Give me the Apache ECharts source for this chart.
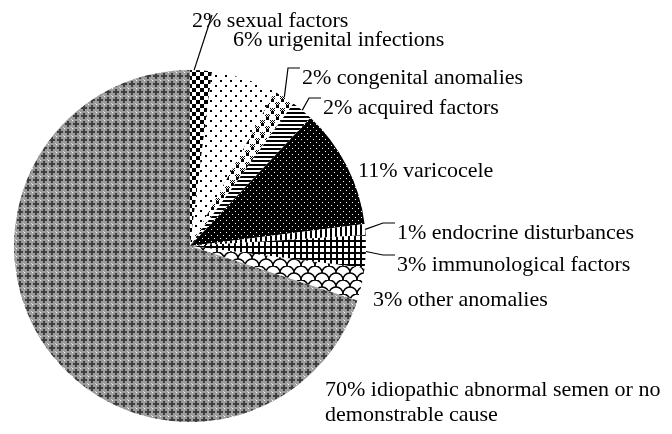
<!DOCTYPE html>
<html>
<head>
<meta charset="utf-8">
<script src="https://cdn.jsdelivr.net/npm/echarts@6/dist/echarts.min.js"></script>
<style>
html, body { margin: 0; padding: 0; background: #fff; }
#chart { width: 672px; height: 434px; }
</style>
</head>
<body>
<div id="chart"></div>
<script>
var causes = ['sexual factors', 'urigenital infections', 'congenital anomalies', 'acquired factors',
    'varicocele', 'endocrine disturbances', 'immunological factors', 'other anomalies',
    'idiopathic abnormal semen or no\ndemonstrable cause'];
var shares = [2, 6, 2, 2, 11, 1, 3, 3, 70];
var withLeader = [true, false, true, true, false, true, true, false, false];

// small canvas tiles used as repeating fills
function tile(w, h, draw) {
    var c = document.createElement('canvas');
    c.width = w;
    c.height = h;
    var ctx = c.getContext('2d');
    ctx.fillStyle = '#fff';
    ctx.fillRect(0, 0, w, h);
    draw(ctx, w, h);
    return {image: c, repeat: 'repeat'};
}

function grayBlock(ctx, x0, y0, w, h) {
    ctx.fillStyle = '#000';
    for (var y = y0; y < y0 + h; y++) {
        for (var x = x0; x < x0 + w; x++) {
            if ((x + y) % 2 === 0) ctx.fillRect(x, y, 1, 1);
        }
    }
}

var fills = [
    // checker
    tile(8, 8, function (ctx) {
        ctx.fillStyle = '#000';
        ctx.fillRect(0, 0, 4, 4);
        ctx.fillRect(4, 4, 4, 4);
    }),
    // sparse dots
    tile(10, 10, function (ctx) {
        ctx.fillStyle = '#000';
        ctx.fillRect(0, 0, 2, 2);
        ctx.fillRect(5, 5, 2, 2);
    }),
    // gray and black blocks
    tile(10, 12, function (ctx) {
        grayBlock(ctx, 0, 0, 5, 3);
        ctx.fillStyle = '#000';
        ctx.fillRect(1, 3, 3, 3);
        grayBlock(ctx, 5, 6, 5, 3);
        ctx.fillStyle = '#000';
        ctx.fillRect(6, 9, 3, 3);
    }),
    // horizontal stripes
    tile(4, 4, function (ctx) {
        ctx.fillStyle = '#000';
        ctx.fillRect(0, 0, 4, 2);
    }),
    // black with white dots
    tile(6, 6, function (ctx) {
        ctx.fillStyle = '#000';
        ctx.fillRect(0, 0, 6, 6);
        ctx.fillStyle = '#fff';
        ctx.fillRect(1, 1, 1, 1);
        ctx.fillRect(4, 4, 1, 1);
    }),
    // vertical stripes
    tile(5, 5, function (ctx) {
        ctx.fillStyle = '#000';
        ctx.fillRect(0, 0, 2, 5);
    }),
    // grid
    tile(6, 6, function (ctx) {
        ctx.fillStyle = '#000';
        ctx.fillRect(0, 0, 6, 2);
        ctx.fillRect(0, 0, 2, 6);
    }),
    // scales
    tile(14, 14, function (ctx) {
        ctx.strokeStyle = '#000';
        ctx.lineWidth = 1.6;
        ctx.beginPath();
        ctx.arc(7, 7, 7, Math.PI, 2 * Math.PI);
        ctx.stroke();
        ctx.beginPath();
        ctx.arc(0, 14, 7, 1.5 * Math.PI, 2 * Math.PI);
        ctx.stroke();
        ctx.beginPath();
        ctx.arc(14, 14, 7, Math.PI, 1.5 * Math.PI);
        ctx.stroke();
    }),
    // gray crosshatch
    tile(8, 8, function (ctx) {
        ctx.fillStyle = '#9b9b9b';
        ctx.fillRect(0, 0, 8, 8);
        ctx.fillStyle = '#3f3f3f';
        ctx.fillRect(3, 1, 2, 6);
        ctx.fillRect(1, 3, 6, 2);
        ctx.fillStyle = '#fff';
        ctx.fillRect(0, 0, 1, 1);
        ctx.fillStyle = '#cfcfcf';
        ctx.fillRect(7, 7, 1, 1);
    })
];

var labelPlaces = [[192, 21], [233, 40], [302, 78], [323, 108], [358, 171],
    [397, 233], [397, 265], [373, 300], [325, 378]];

var items = causes.map(function (name, i) {
    return {
        name: name,
        value: shares[i],
        itemStyle: {color: fills[i]},
        labelLine: {show: withLeader[i]}
    };
});

var chart = echarts.init(document.getElementById('chart'));
chart.setOption({
    backgroundColor: '#fff',
    animation: false,
    series: [{
        type: 'pie',
        center: [190, 246],
        radius: 176,
        startAngle: 90,
        clockwise: true,
        avoidLabelOverlap: false,
        emphasis: {disabled: true},
        itemStyle: {borderWidth: 0},
        label: {
            show: true,
            position: 'outside',
            color: '#000',
            fontFamily: 'Liberation Serif',
            fontSize: 22,
            lineHeight: 25,
            formatter: function (p) {
                return shares[p.dataIndex] + '% ' + causes[p.dataIndex];
            }
        },
        labelLine: {
            length: 10,
            length2: 10,
            lineStyle: {color: '#000', width: 1.2}
        },
        labelLayout: function (params) {
            var i = params.dataIndex;
            var p = labelPlaces[i];
            var out = {x: p[0], y: p[1], align: 'left', verticalAlign: i === 8 ? 'top' : 'middle'};
            if (withLeader[i] && params.labelLinePoints) {
                var start = params.labelLinePoints[0];
                if (i === 0) {
                    out.labelLinePoints = [[start[0] - 8, start[1] + 3], [p[0] + 20, p[1] - 6], [p[0] + 20, p[1] - 6]];
                } else {
                    out.labelLinePoints = [start, [p[0] - 14, p[1] - 10], [p[0] - 2, p[1] - 10]];
                }
            }
            return out;
        },
        data: items
    }]
});
</script>
</body>
</html>
